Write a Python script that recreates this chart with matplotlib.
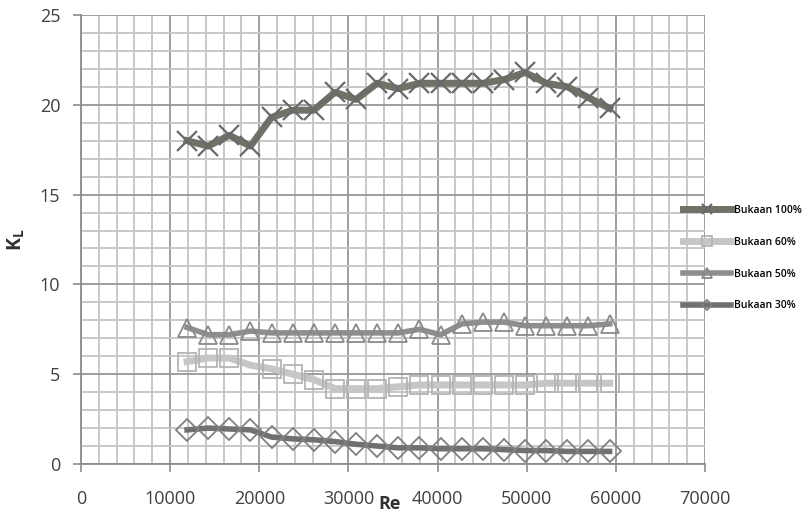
import matplotlib.pyplot as plt
from matplotlib.ticker import MultipleLocator

plt.rcParams['font.family'] = ['Open Sans', 'DejaVu Sans']

# Reynolds number (same for all openings)
re_vals = [11900, 14270, 16640, 19010, 21380, 23750, 26120, 28490, 30860, 33230,
           35600, 37970, 40340, 42710, 45080, 47450, 49820, 52190, 54560, 56930, 59300]

# loss coefficient K_L for each valve opening
kl_100 = [18.0, 17.7, 18.3, 17.7, 19.3, 19.7, 19.7, 20.7, 20.3, 21.2,
          20.9, 21.2, 21.2, 21.2, 21.2, 21.4, 21.8, 21.2, 21.0, 20.4, 19.8]
kl_60 = [5.7, 5.9, 5.9, 5.5, 5.3, 5.0, 4.7, 4.2, 4.2, 4.2,
         4.3, 4.4, 4.4, 4.4, 4.4, 4.4, 4.4, 4.5, 4.5, 4.5, 4.5]
kl_50 = [7.6, 7.2, 7.2, 7.4, 7.3, 7.3, 7.3, 7.3, 7.3, 7.3,
         7.3, 7.5, 7.2, 7.8, 7.9, 7.9, 7.7, 7.7, 7.7, 7.7, 7.8]
kl_30 = [1.9, 2.0, 1.95, 1.9, 1.5, 1.4, 1.35, 1.25, 1.1, 1.0,
         0.9, 0.9, 0.85, 0.85, 0.85, 0.8, 0.75, 0.75, 0.7, 0.7, 0.7]

labels = ['Bukaan 100%', 'Bukaan 60%', 'Bukaan 50%', 'Bukaan 30%']

fig = plt.figure(figsize=(8.03, 5.14), dpi=100)
ax = fig.add_axes([81 / 803, 50 / 514, 624 / 803, 449 / 514])

ax.plot(re_vals, kl_100, color='#717168', lw=5, marker='x', ms=14, mew=1.6,
        mec='#6a6a6a', label=labels[0], zorder=5)
ax.plot(re_vals, kl_60, color='#c6c6c6', lw=5, marker='s', ms=13, mew=1.3,
        mfc='none', mec='#b4b4b4', label=labels[1], zorder=4)
ax.plot(re_vals, kl_50, color='#8e8e8e', lw=4, marker='^', ms=13, mew=1.3,
        mfc='none', mec='#8a8a8a', label=labels[2], zorder=4)
ax.plot(re_vals, kl_30, color='#707070', lw=4, marker='D', ms=11, mew=1.3,
        mfc='none', mec='#808080', label=labels[3], zorder=4)

ax.set_xlim(0, 70000)
ax.set_ylim(0, 25)
ax.xaxis.set_major_locator(MultipleLocator(10000))
ax.xaxis.set_minor_locator(MultipleLocator(2000))
ax.yaxis.set_major_locator(MultipleLocator(5))
ax.yaxis.set_minor_locator(MultipleLocator(1))

ax.grid(which='minor', color='#c4c4c4', lw=1.3)
ax.grid(which='major', color='#969696', lw=1.3)
ax.set_axisbelow(True)

for s in ['top', 'right']:
    ax.spines[s].set_visible(False)
for s in ['left', 'bottom']:
    ax.spines[s].set_color('#8c8c8c')
    ax.spines[s].set_linewidth(1.3)

ax.tick_params(which='minor', length=0)
ax.tick_params(which='major', length=6, width=1.2, color='#8c8c8c',
               labelsize=13, labelcolor='#404040')
ax.tick_params(axis='x', pad=13)
ax.tick_params(axis='y', pad=9)

ax.set_ylabel('K$_\\mathregular{L}$', fontsize=14, fontweight='bold', color='#303030')
ax.yaxis.set_label_coords(-54 / 624, 0.50)
ax.text(390 / 803, 1 / 514, 'Re', transform=fig.transFigure, fontsize=13,
        fontweight='bold', color='#303030', ha='center', va='bottom')

fig.legend(loc='upper left', bbox_to_anchor=(683 / 803, 1 - 205 / 514),
           frameon=False, handlelength=4.6, handletextpad=0.3,
           labelspacing=2.0, borderpad=0, borderaxespad=0, markerscale=0.5,
           prop={'weight': 'semibold', 'size': 7.5})

fig.savefig('out.png', dpi=100)
